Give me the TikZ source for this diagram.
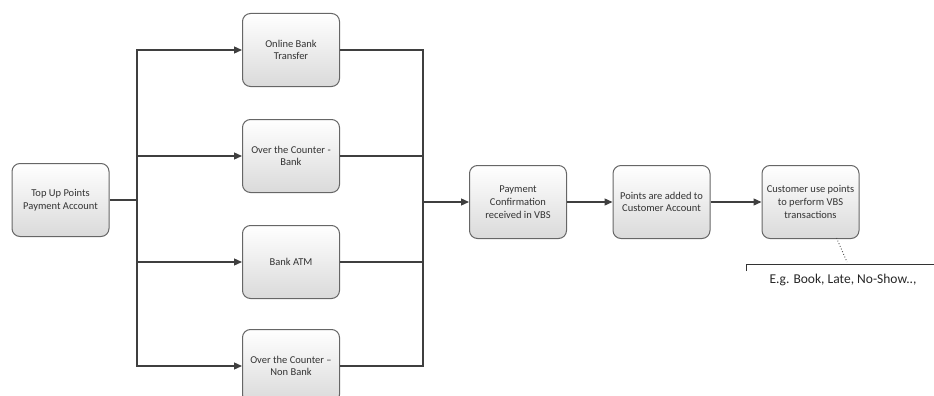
\documentclass[tikz,border=0pt]{standalone}
\usepackage{fontspec}
\setmainfont{Carlito}
\usetikzlibrary{arrows.meta}
\definecolor{lineGray}{HTML}{3F3F3F}
\definecolor{boxGray}{HTML}{DADADA}
\definecolor{textGray}{HTML}{333333}

\begin{document}
\begin{tikzpicture}[x=1pt, y=-1pt, >={Triangle[length=8pt,width=7pt]}, line width=1.3pt, draw=lineGray]
	\tikzstyle {Stage} = [shape=rectangle, rounded corners=8pt, draw=black!60, line width=1pt, top color=white, bottom color=boxGray, minimum height=73pt, minimum width=97pt, align=center, text=textGray, font=\fontsize{10.5}{12.7}\selectfont]
	\tikzstyle {Note}  = [text=black!85, font=\fontsize{13.5}{16}\selectfont]

	\useasboundingbox (0,0) rectangle (934,396);

	% top up account
	\node[Stage] (TopUp) at (60.5,200) {Top Up Points\\Payment Account};

	% payment channels
	\node[Stage] (Channel-1) at (291,50) {Online Bank\\Transfer};
	\node[Stage] (Channel-2) at (291,156) {Over the Counter -\\Bank};
	\node[Stage] (Channel-3) at (291,262) {Bank ATM};
	\node[Stage] (Channel-4) at (291,366) {Over the Counter --\\Non Bank};

	% confirmation ... usage
	\node[Stage] (Payment) at (518,202) {Payment\\Confirmation\\received in VBS};
	\node[Stage] (Points) at (661.5,202) {Points are added to\\Customer Account};
	\node[Stage] (Usage) at (810.5,202) {Customer use points\\to perform VBS\\transactions};

	\coordinate (split) at (137,200);
	\coordinate (merge) at (423,202);

	\draw (TopUp) -- (split);
	\draw[->] (split) |- (Channel-1);
	\draw[->] (split) |- (Channel-2);
	\draw[->] (split) |- (Channel-3);
	\draw[->] (split) |- (Channel-4);

	\draw (Channel-1) -| (merge);
	\draw (Channel-2) -| (merge);
	\draw (Channel-3) -| (merge);
	\draw (Channel-4) -| (merge);

	\draw[->] (merge) -- (Payment);
	\draw[->] (Payment) -- (Points);
	\draw[->] (Points) -- (Usage);

	% annotation
	\node[Note] (Note) at (843,280) {E.g. Book, Late, No-Show..,};
	\coordinate (Bracket-a) at (746,271);
	\coordinate (Bracket-b) at (746,264);
	\coordinate (Bracket-c) at (934,264);
	\coordinate (Note-tip) at (847,262);
	\draw[line width=0.8pt, black!80] (Bracket-a) -- (Bracket-b) -- (Bracket-c);
	\draw[dotted, line width=0.9pt, black!70] ([xshift=26pt, yshift=1pt]Usage.south) -- (Note-tip);
\end{tikzpicture}
\end{document}
